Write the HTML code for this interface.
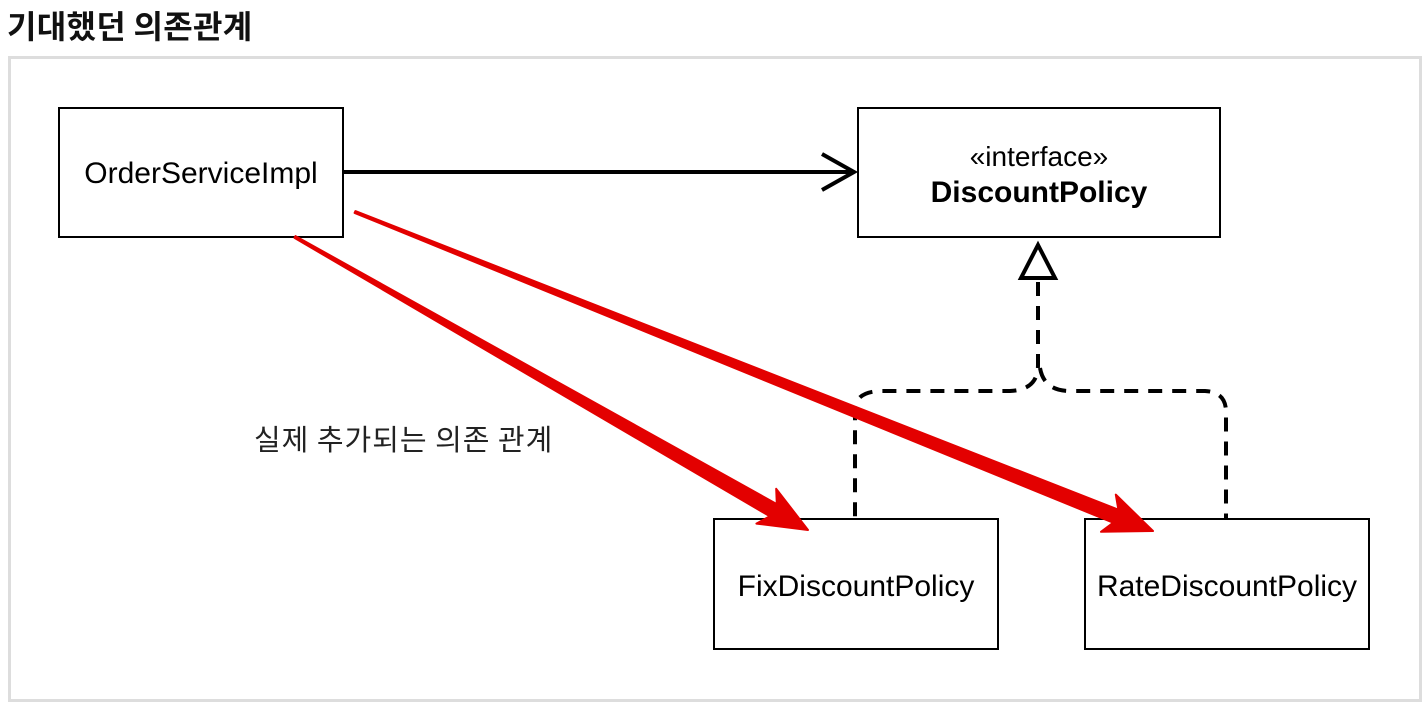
<!DOCTYPE html>
<html><head><meta charset="utf-8"><style>
body{margin:0;width:1426px;height:702px;background:#fff;overflow:hidden;font-family:"Liberation Sans","Noto Sans CJK KR",sans-serif}
h1{position:absolute;left:7px;top:3px;margin:0;font-size:32px;font-weight:bold;font-family:"Noto Sans CJK KR",sans-serif;color:#111;line-height:44px;letter-spacing:0.3px}
.frame{position:absolute;left:8px;top:56px;width:1408px;height:640px;border:3px solid #ddd}
svg{position:absolute;left:0;top:0}
</style></head><body>
<h1>기대했던 의존관계</h1>
<div class="frame"></div>
<svg width="1426" height="702" font-family="Liberation Sans, sans-serif">
<g fill="#fff" stroke="#000" stroke-width="2">
<rect x="59" y="108" width="284" height="129"/>
<rect x="858" y="108" width="362" height="129"/>
<rect x="714" y="519" width="284" height="130"/>
<rect x="1085" y="519" width="284" height="130"/>
</g>
<g font-size="30" fill="#000" text-anchor="middle">
<text x="201" y="183">OrderServiceImpl</text>
<text x="1039" y="166" font-size="28">«interface»</text>
<text x="1039" y="202" font-weight="bold">DiscountPolicy</text>
<text x="856" y="596">FixDiscountPolicy</text>
<text x="1227" y="596">RateDiscountPolicy</text>
</g>
<line x1="343" y1="172" x2="852" y2="172" stroke="#000" stroke-width="4"/>
<polyline points="822,154 854,172 822,190" fill="none" stroke="#000" stroke-width="4"/>
<polygon points="1038,245 1055,278 1021,278" fill="#fff" stroke="#000" stroke-width="4"/>
<path d="M1038,282 V365 Q1038,390 1010,391 H880 Q855,392 855,410 V519 M1040,368 Q1044,391 1070,391 H1205 Q1226,392 1226,412 V519" fill="none" stroke="#000" stroke-width="4" stroke-dasharray="14,10"/>
<g fill="#e30000" stroke="#e30000" stroke-width="2" stroke-linejoin="round">
<polygon points="295.5,236.1 776.8,504.1 776.2,488.8 808,530 756.4,523.6 769.8,516.3 294.5,237.9"/>
<polygon points="355.4,211.1 1118.4,509.7 1115.8,494.6 1153,531 1101,531.8 1113.2,522.7 354.6,212.9"/>
</g>
<text x="254" y="450" font-size="29" letter-spacing="1" fill="#222" font-family="Noto Sans CJK KR, sans-serif" style="paint-order:stroke" stroke="#fff" stroke-width="3">실제 추가되는 의존 관계</text>
</svg>
</body></html>
